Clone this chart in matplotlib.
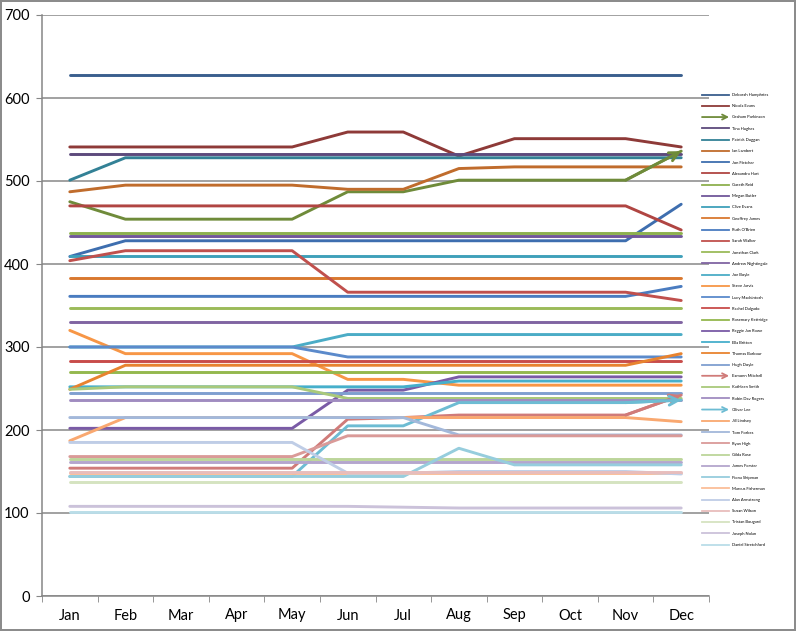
import matplotlib.pyplot as plt
from matplotlib.lines import Line2D
from matplotlib.patches import FancyArrowPatch
from matplotlib.legend_handler import HandlerLine2D
import numpy as np

plt.rcParams['font.family'] = ['Lato', 'DejaVu Sans']

months = ['Jan', 'Feb', 'Mar', 'Apr', 'May', 'Jun', 'Jul', 'Aug', 'Sep', 'Oct', 'Nov', 'Dec']

names = ['Deborah Humphries', 'Nicola Evans', 'Graham Parkinson', 'Tina Hughes', 'Patrick Duggan',
         'Ian Lambert', 'Jon Fletcher', 'Alexandra Hart', 'Gareth Reid', 'Megan Butler',
         'Clive Evans', 'Geoffrey James', 'Ruth O\'Brien', 'Sarah Walker', 'Jonathan Clark',
         'Andrew Nightingale', 'Joe Boyle', 'Steve Jarvis', 'Lucy Mackintosh', 'Rachel Dalgado',
         'Rosemary Kettridge', 'Reggie Jan Rowe', 'Ella Britton', 'Thomas Barbour', 'Hugh Doyle',
         'Eamonn Mitchell', 'Kathleen Smith', 'Robin Dav Rogers', 'Oliver Lee', 'Jill Lindsey',
         'Tom Forbes', 'Ryan High', 'Gilda Rose', 'James Forster', 'Fiona Shipman',
         'Marcus Fisherman', 'Alan Armstrong', 'Susan Wilson', 'Tristan Bougard', 'Joseph Nolan',
         'Daniel Stretchford']

s01 = [628, 628, 628, 628, 628, 628, 628, 628, 628, 628, 628, 628]
s02 = [541, 541, 541, 541, 541, 559, 559, 530, 551, 551, 551, 541]
s03 = [475, 454, 454, 454, 454, 487, 487, 501, 501, 501, 501, 536]
s04 = [532, 532, 532, 532, 532, 532, 532, 532, 532, 532, 532, 532]
s05 = [501, 528, 528, 528, 528, 528, 528, 528, 528, 528, 528, 528]
s06 = [487, 495, 495, 495, 495, 490, 490, 515, 517, 517, 517, 517]
s07 = [409, 428, 428, 428, 428, 428, 428, 428, 428, 428, 428, 472]
s08 = [470, 470, 470, 470, 470, 470, 470, 470, 470, 470, 470, 441]
s09 = [437, 437, 437, 437, 437, 437, 437, 437, 437, 437, 437, 437]
s10 = [434, 434, 434, 434, 434, 434, 434, 434, 434, 434, 434, 434]
s11 = [410, 410, 410, 410, 410, 410, 410, 410, 410, 410, 410, 410]
s12 = [383, 383, 383, 383, 383, 383, 383, 383, 383, 383, 383, 383]
s13 = [361, 361, 361, 361, 361, 361, 361, 361, 361, 361, 361, 373]
s14 = [404, 416, 416, 416, 416, 366, 366, 366, 366, 366, 366, 356]
s15 = [347, 347, 347, 347, 347, 347, 347, 347, 347, 347, 347, 347]
s16 = [330, 330, 330, 330, 330, 330, 330, 330, 330, 330, 330, 330]
s17 = [300, 300, 300, 300, 300, 315, 315, 315, 315, 315, 315, 315]
s18 = [320, 292, 292, 292, 292, 261, 261, 254, 254, 254, 254, 254]
s19 = [300, 300, 300, 300, 300, 288, 288, 288, 288, 288, 288, 288]
s20 = [283, 283, 283, 283, 283, 283, 283, 283, 283, 283, 283, 283]
s21 = [270, 270, 270, 270, 270, 270, 270, 270, 270, 270, 270, 270]
s22 = [202, 202, 202, 202, 202, 248, 248, 264, 264, 264, 264, 264]
s23 = [252, 252, 252, 252, 252, 252, 252, 259, 259, 259, 259, 259]
s24 = [249, 278, 278, 278, 278, 278, 278, 278, 278, 278, 278, 292]
s25 = [244, 244, 244, 244, 244, 244, 244, 244, 244, 244, 244, 244]
s26 = [154, 154, 154, 154, 154, 213, 215, 218, 218, 218, 218, 242]
s27 = [249, 252, 252, 252, 252, 238, 238, 238, 238, 238, 238, 238]
s28 = [236, 236, 236, 236, 236, 236, 236, 236, 236, 236, 236, 236]
s29 = [144, 144, 144, 144, 144, 205, 205, 233, 233, 233, 233, 236]
s30 = [187, 215, 215, 215, 215, 215, 215, 215, 215, 215, 215, 210]
s31 = [215, 215, 215, 215, 215, 215, 215, 194, 194, 194, 194, 194]
s32 = [168, 168, 168, 168, 168, 193, 193, 193, 193, 193, 193, 193]
s33 = [165, 165, 165, 165, 165, 165, 165, 165, 165, 165, 165, 165]
s34 = [161, 161, 161, 161, 161, 161, 161, 161, 161, 161, 161, 161]
s35 = [144, 144, 144, 144, 144, 144, 144, 178, 158, 158, 158, 158]
s36 = [148, 148, 148, 148, 148, 148, 148, 148, 148, 148, 148, 148]
s37 = [185, 185, 185, 185, 185, 148, 148, 150, 150, 150, 150, 147]
s38 = [149, 149, 149, 149, 149, 149, 149, 149, 149, 149, 149, 149]
s39 = [137, 137, 137, 137, 137, 137, 137, 137, 137, 137, 137, 137]
s40 = [108, 108, 108, 108, 108, 108, 107, 106, 106, 106, 106, 106]
s41 = [101, 101, 101, 101, 101, 101, 101, 101, 101, 101, 101, 101]

series = [s01, s02, s03, s04, s05, s06, s07, s08, s09, s10, s11, s12, s13, s14, s15, s16, s17,
          s18, s19, s20, s21, s22, s23, s24, s25, s26, s27, s28, s29, s30, s31, s32, s33, s34,
          s35, s36, s37, s38, s39, s40, s41]

colors = ['#3A5F8E', '#8E3A38', '#6F8B3A', '#5D4A7C', '#338196', '#C06C2C',
          '#3E6EAF', '#B04542', '#8DB04E', '#71579A', '#3FA0BA', '#D9782F',
          '#4A7CC0', '#C0504D', '#9BBB59', '#8064A2', '#4BACC6', '#F79646',
          '#5B8ACB', '#C84C4A', '#94B84E', '#7A5BA6', '#46AFCB', '#E8832F',
          '#7F9FD0', '#D07B79', '#A9C97B', '#A08CC0', '#6DBCD3', '#F9A870',
          '#A3B8DA', '#DA9A98', '#BCD59A', '#B4A6CD', '#96CDDD', '#FBBE98',
          '#BFCDE6', '#E8BDBC', '#D5E3C0', '#CBC2DA', '#BADDE8']

# series drawn with an arrow head at the Dec end
arrow_series = [2, 25, 28]


class ArrowHandler(HandlerLine2D):
    def create_artists(self, legend, orig_handle, xdescent, ydescent, width, height, fontsize, trans):
        y = height / 2 - ydescent
        arr = FancyArrowPatch((-xdescent, y), (-xdescent + width, y), arrowstyle='->',
                              mutation_scale=9, color=orig_handle.get_color(), lw=1.3,
                              shrinkA=0, shrinkB=0, transform=trans)
        return [arr]


fig = plt.figure(figsize=(7.96, 6.31), dpi=100, edgecolor='#8c8c8c', linewidth=1.5)
ax = fig.add_axes([42 / 796, 35 / 631, 667 / 796, 581 / 631])

x = np.arange(len(months))
handles = []
handler_map = {}
for i, vals in enumerate(series):
    ax.plot(x, vals, color=colors[i], linewidth=2.1, solid_capstyle='round',
            label=names[i], zorder=3)
    proxy = Line2D([], [], color=colors[i], linewidth=1.3)
    if i in arrow_series:
        ax.annotate('', xy=(x[-1], vals[-1]), xytext=(x[-2], vals[-2]),
                    arrowprops=dict(arrowstyle='->', color=colors[i], lw=2.1,
                                    mutation_scale=16, shrinkA=0, shrinkB=0), zorder=4)
        handler_map[proxy] = ArrowHandler()
    handles.append(proxy)

ax.set_xlim(-0.5, 11.5)
ax.set_ylim(0, 700)
ax.set_yticks(range(0, 701, 100))
ax.set_xticks(x)
ax.set_xticklabels(months)
ax.set_xticks(np.arange(-0.5, 12, 1), minor=True)
ax.tick_params(axis='x', which='major', length=0, pad=9, labelsize=10.5)
ax.tick_params(axis='x', which='minor', length=4, color='#868686', direction='out')
ax.tick_params(axis='y', length=4, color='#868686', pad=5, labelsize=10.5)
ax.yaxis.grid(True, color='#878787', linewidth=1.1)
ax.set_axisbelow(True)
for side in ['top', 'right']:
    ax.spines[side].set_visible(False)
for side in ['left', 'bottom']:
    ax.spines[side].set_color('#868686')
    ax.spines[side].set_linewidth(1.1)

fig.legend(handles, names, handler_map=handler_map, loc='upper left',
           bbox_to_anchor=(702 / 796, 1 - 93 / 631), frameon=False, fontsize=3,
           handlelength=6.5, handletextpad=0.6, labelspacing=1.74, borderpad=0,
           borderaxespad=0)

fig.savefig('out.png', dpi=100, edgecolor=fig.get_edgecolor())
